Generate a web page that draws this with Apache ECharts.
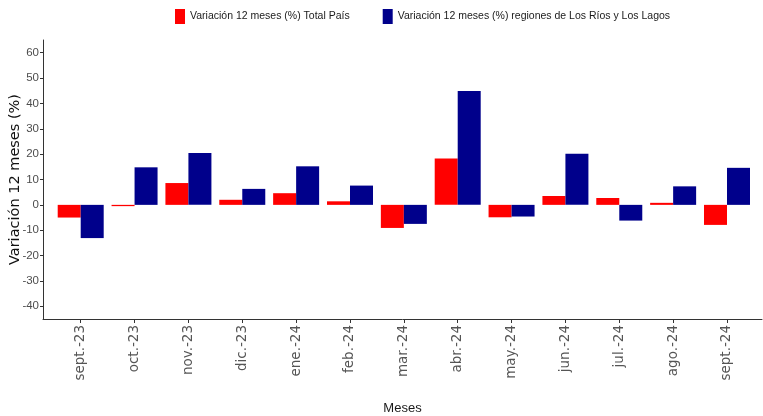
<!DOCTYPE html>
<html><head><meta charset="utf-8">
<script src="https://cdn.jsdelivr.net/npm/echarts@6/dist/echarts.min.js"></script>
<style>html,body{margin:0;padding:0;background:#fff}#c{width:763px;height:416px}</style>
</head><body><div id="c"></div>
<script>
const categories = ['sept.-23','oct.-23','nov.-23','dic.-23','ene.-24','feb.-24','mar.-24','abr.-24','may.-24','jun.-24','jul.-24','ago.-24','sept.-24'];
const totalPais = [-5.0,-0.5,8.6,2.0,4.6,1.4,-9.1,18.3,-4.9,3.5,2.7,0.8,-7.9];
const losRiosLagos = [-13.1,14.8,20.4,6.3,15.2,7.6,-7.5,44.9,-4.6,20.2,-6.2,7.3,14.6];
const yTicks = [-40,-30,-20,-10,0,10,20,30,40,50,60];
const seriesNames = ['Variación 12 meses (%) Total País','Variación 12 meses (%) regiones de Los Ríos y Los Lagos'];

const catIdx = categories.map((c, i) => i);
const sans = "'Liberation Sans',Arial,sans-serif";
const chart = echarts.init(document.getElementById('c'), null, {renderer:'canvas'});
chart.setOption({
  animation:false,
  legend:{
    top:9, left:175, orient:'horizontal', width:700, padding:0,
    itemWidth:10, itemHeight:15, itemGap:33, icon:'rect',
    textStyle:{fontFamily:sans, fontSize:10.5, color:'#1a1a1a'},
    data:seriesNames
  },
  grid:{left:43, right:1, top:40, bottom:97, containLabel:false, outerBoundsMode:'none'},
  xAxis:{
    type:'value', min:-0.7, max:12.65,
    name:'Meses', nameLocation:'middle', nameGap:83, nameMoveOverlap:false,
    nameTextStyle:{fontFamily:sans, fontSize:13, color:'#1a1a1a'},
    axisLine:{show:true, onZero:false, lineStyle:{color:'#333'}},
    axisTick:{show:true, length:4, customValues:catIdx, lineStyle:{color:'#333'}},
    axisLabel:{customValues:catIdx, formatter:(v) => categories[Math.round(v)] || '', rotate:90,
      fontFamily:"'DejaVu Sans',sans-serif", fontSize:13.5, color:'#555', margin:6},
    splitLine:{show:false}
  },
  yAxis:{
    type:'value', min:-45, max:65,
    name:'Variación 12 meses (%)', nameLocation:'middle', nameGap:20, nameMoveOverlap:false,
    nameTextStyle:{fontFamily:"'DejaVu Sans',sans-serif", fontSize:14.5, color:'#111'},
    axisLine:{show:true, onZero:false, lineStyle:{color:'#333'}},
    axisTick:{show:true, length:3, customValues:yTicks, lineStyle:{color:'#333'}},
    axisLabel:{customValues:yTicks, fontFamily:sans, fontSize:11.5, color:'#4d4d4d', margin:4},
    splitLine:{show:false}
  },
  series:[
    {name:seriesNames[0], type:'bar', data:catIdx.map(i => [i, totalPais[i]]), barWidth:23, barGap:'0%', itemStyle:{color:'#ff0000'}},
    {name:seriesNames[1], type:'bar', data:catIdx.map(i => [i, losRiosLagos[i]]), barWidth:23, barGap:'0%', itemStyle:{color:'#00008b'}}
  ]
});
</script></body></html>
